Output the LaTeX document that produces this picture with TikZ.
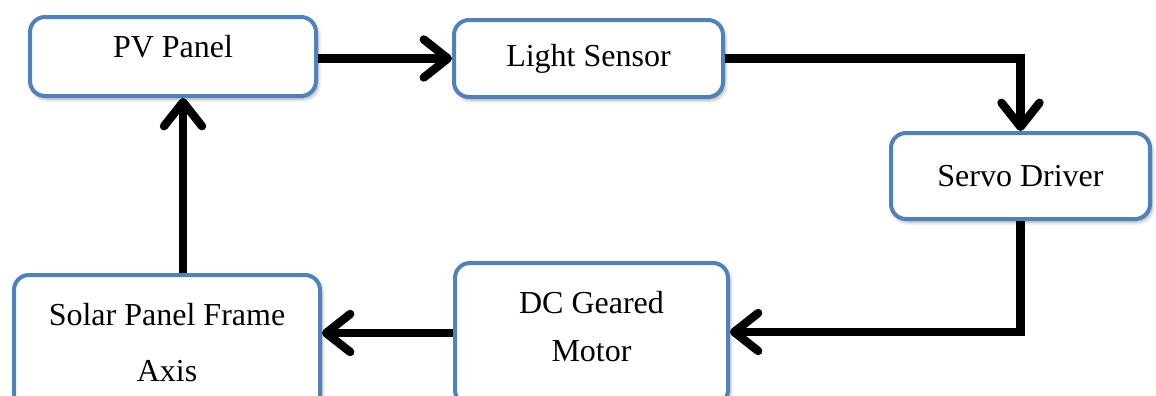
\documentclass[tikz,border=0pt]{standalone}
\usepackage{fontspec}
\setmainfont{Liberation Serif}
\usetikzlibrary{arrows.meta,shadows.blur}
\definecolor{boxblue}{RGB}{79,129,189}
\tikzset{
  blk/.style={draw=boxblue, line width=2pt, rounded corners=7.5pt, fill=white,
    align=center, inner sep=2pt, font=\fontsize{16}{19}\selectfont,
    blur shadow={shadow xshift=1pt, shadow yshift=-1.5pt, shadow blur steps=6, shadow opacity=35}},
  arr/.style={line width=4.2pt, line join=miter, draw=black,
    -{Straight Barb[length=12pt, width=19pt, line cap=round, line join=round]}}
}
\begin{document}
\begin{tikzpicture}[x=0.5pt,y=-0.5pt]
\clip (0,0) rectangle (1156,396);
\useasboundingbox (0,0) rectangle (1156,396);
\node[blk, minimum width=143pt, minimum height=39.5pt] (pv) at (173,56.5) {\raisebox{3pt}[11pt][4pt]{PV Panel}};
\node[blk, minimum width=134.5pt, minimum height=38.5pt] (ls) at (588.5,58.5) {Light Sensor};
\node[blk, minimum width=129.5pt, minimum height=43pt] (sd) at (1020.5,176) {\raisebox{-1.5pt}[11pt][4pt]{Servo Driver}};
\node[blk, minimum width=153pt, minimum height=67.5pt] (sp) at (167,342.5) {Solar Panel Frame\\[9pt]Axis};
\node[blk, minimum width=136.5pt, minimum height=71pt] (dc) at (591.5,334) {\raisebox{2pt}[11pt][4pt]{DC Geared}\\[5pt]\raisebox{2pt}[11pt][4pt]{Motor}};
\coordinate (dcin) at ([yshift=1pt]dc.east);
\coordinate (dcout) at ([yshift=0.5pt]dc.west);
\draw[arr] (pv.east |- ls.west) -- (ls.west);
\draw[arr] (ls.east) -| (sd.north);
\draw[arr] (sd.south) |- (dcin);
\draw[arr] (dcout) -- (sp.east |- dcout);
\draw[arr] ([xshift=5pt]pv.south |- sp.north) -- ([xshift=5pt]pv.south);
\end{tikzpicture}
\end{document}
